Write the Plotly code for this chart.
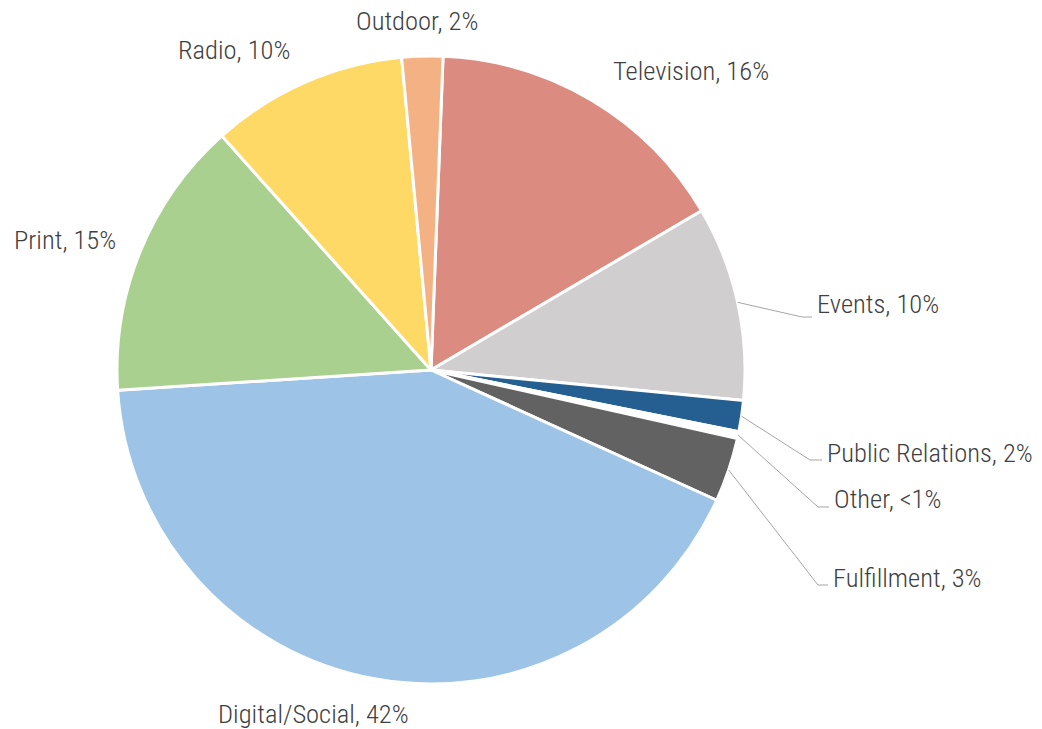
import math
import plotly.graph_objects as go

W, H = 1042, 729
OFF = 8  # page body margin in the browser

# data (clockwise, starting with Television)
categories = ['Television', 'Events', 'Public Relations', 'Other', 'Fulfillment',
              'Digital/Social', 'Print', 'Radio', 'Outdoor']
shares = [15.9, 10.0, 1.6, 0.35, 3.3, 42.1, 14.4, 10.1, 2.1]
pct_labels = ['16%', '10%', '2%', '<1%', '3%', '42%', '15%', '10%', '2%']

colors = ['#DC8B80', '#D0CECF', '#255E91', '#FFFFFF', '#626262',
          '#9DC3E6', '#A9D08E', '#FFD966', '#F4B183']

# pie geometry in screen pixels
cx, cy, r = 431, 370, 314
start_deg = 2.2

# label anchors (left edge, vertical middle) in screen pixels
label_pos = {
    'Television': (612, 71),
    'Events': (816, 303),
    'Public Relations': (826, 452),
    'Other': (833, 498),
    'Fulfillment': (832, 577),
    'Digital/Social': (217, 713),
    'Print': (13, 240),
    'Radio': (177, 50),
    'Outdoor': (355, 21),
}
# elbow points for the leader lines
leaders = {
    'Events': (802, 317),
    'Public Relations': (810, 460),
    'Other': (818, 507),
    'Fulfillment': (818, 585),
}


def px2paper(x, y):
    return (x - OFF) / W, 1 - (y - OFF) / H


fig = go.Figure(go.Pie(
    labels=categories,
    values=shares,
    sort=False,
    direction='clockwise',
    rotation=start_deg,
    marker=dict(colors=colors, line=dict(color='white', width=3)),
    textinfo='none',
    hoverinfo='label+percent',
    domain=dict(x=[(cx - r - OFF) / W, (cx + r - OFF) / W],
                y=[1 - (cy + r - OFF) / H, 1 - (cy - r - OFF) / H]),
    showlegend=False,
))

total = sum(shares)
acc = 0
shapes = []
annotations = []
for name, val, pct in zip(categories, shares, pct_labels):
    mid = start_deg + (acc + val / 2) / total * 360
    acc += val
    lx, ly = label_pos[name]
    if name in leaders:
        a = math.radians(mid)
        sx, sy = cx + r * math.sin(a), cy - r * math.cos(a)
        ex, ey = leaders[name]
        pts = [px2paper(sx, sy), px2paper(ex, ey), px2paper(lx - 4, ey)]
        path = 'M {} {} L {} {} L {} {}'.format(*[v for p in pts for v in p])
        shapes.append(dict(type='path', path=path, xref='paper', yref='paper',
                           line=dict(color='#A6A6A6', width=1)))
    x, y = px2paper(lx, ly)
    annotations.append(dict(x=x, y=y, xref='paper', yref='paper', xanchor='left', yanchor='middle',
                            text=f'{name}, {pct}', showarrow=False, borderpad=0,
                            font=dict(family='Roboto Condensed, Roboto', size=26.5, weight=300,
                                      color='#404040')))

fig.update_layout(
    width=W, height=H,
    margin=dict(l=0, r=0, t=0, b=0),
    paper_bgcolor='white',
    shapes=shapes,
    annotations=annotations,
)

fig.write_html("out.html")
